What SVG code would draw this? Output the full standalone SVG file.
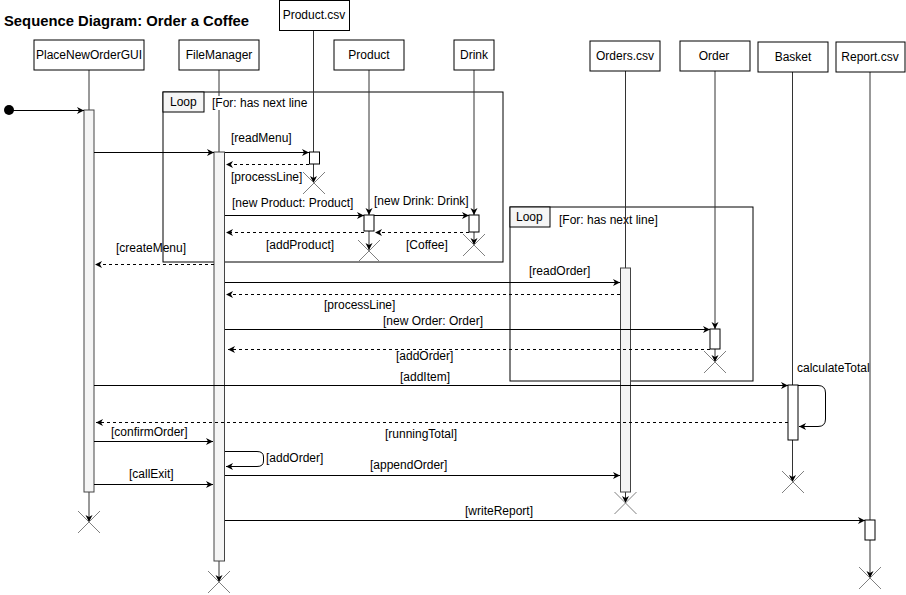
<svg xmlns="http://www.w3.org/2000/svg" width="906" height="595" viewBox="0 0 906 595">
  <style>
    text { font-family: "Liberation Sans", Arial, sans-serif; font-size: 12px; fill: #000; }
    .title { font-size: 14.8px; font-weight: bold; }
    .head { fill: #fff; stroke: #000; stroke-width: 1; }
    .life { stroke: #333; stroke-width: 1; fill: none; }
    .act { fill: #f5f5f5; stroke: #444; stroke-width: 1; }
    .acts { fill: #fff; stroke: #000; stroke-width: 1; }
    .frame { fill: none; stroke: #000; stroke-width: 1; }
    .flabel { fill: #f5f5f5; stroke: #000; stroke-width: 1; }
    .msg { stroke: #000; stroke-width: 1; fill: none; marker-end: url(#arrow); }
    .ret { stroke: #000; stroke-width: 1; fill: none; stroke-dasharray: 3 3; marker-end: url(#arrow); }
    .x { stroke: #808080; stroke-width: 1; }
  </style>
  <defs>
    <marker id="arrow" markerWidth="8" markerHeight="8" refX="7" refY="3.5" orient="auto" markerUnits="userSpaceOnUse">
      <path d="M0,0 L7,3.5 L0,7 L2,3.5 Z" fill="#000"/>
    </marker>
    <g id="destroy">
      <line class="x" x1="-11" y1="-11" x2="11" y2="11"/>
      <line class="x" x1="-11" y1="11" x2="11" y2="-11"/>
    </g>
  </defs>

  <rect width="906" height="595" fill="#fff"/>
  <text class="title" x="4" y="26">Sequence Diagram: Order a Coffee</text>

  <!-- combined fragments -->
  <g id="loop-menu">
    <rect class="frame" x="163" y="92" width="340" height="170"/>
    <rect class="flabel" x="163" y="92" width="41" height="20"/>
    <text x="170" y="106">Loop</text>
  </g>
  <g id="loop-orders">
    <rect class="frame" x="510" y="207" width="243" height="174"/>
    <rect class="flabel" x="510" y="207" width="40" height="20"/>
    <text x="516" y="221">Loop</text>
    <text x="559" y="224">[For: has next line]</text>
  </g>

  <!-- lifelines -->
  <g id="lifelines">
    <line class="life" x1="89" y1="70" x2="89" y2="110"/>
    <line class="life" x1="89" y1="492" x2="89" y2="522" marker-end="url(#arrow)"/>
    <line class="life" x1="219" y1="70" x2="219" y2="152"/>
    <line class="life" x1="219" y1="561" x2="219" y2="582" marker-end="url(#arrow)"/>
    <line class="life" x1="313.5" y1="30" x2="313.5" y2="152"/>
    <line class="life" x1="313.5" y1="164" x2="313.5" y2="183" marker-end="url(#arrow)"/>
    <line class="life" x1="369" y1="70" x2="369" y2="215" marker-end="url(#arrow)"/>
    <line class="life" x1="369" y1="231" x2="369" y2="250" marker-end="url(#arrow)"/>
    <line class="life" x1="474" y1="70" x2="474" y2="215" marker-end="url(#arrow)"/>
    <line class="life" x1="474" y1="232" x2="474" y2="245" marker-end="url(#arrow)"/>
    <line class="life" x1="625.5" y1="70" x2="625.5" y2="268"/>
    <line class="life" x1="625.5" y1="492" x2="625.5" y2="503" marker-end="url(#arrow)"/>
    <line class="life" x1="715" y1="70" x2="715" y2="329" marker-end="url(#arrow)"/>
    <line class="life" x1="715" y1="349" x2="715" y2="362" marker-end="url(#arrow)"/>
    <line class="life" x1="792.5" y1="72" x2="792.5" y2="385"/>
    <line class="life" x1="792.5" y1="440" x2="792.5" y2="482" marker-end="url(#arrow)"/>
    <line class="life" x1="870" y1="72" x2="870" y2="520"/>
    <line class="life" x1="870" y1="540" x2="870" y2="578" marker-end="url(#arrow)"/>
  </g>

  <!-- loop guard text with its own background over the lifeline -->
  <rect x="210" y="96" width="100" height="14" fill="#fff"/>
  <text x="212" y="107">[For: has next line</text>

  <!-- participants -->
  <g id="PlaceNewOrderGUI">
    <rect class="head" x="34" y="40" width="110" height="30"/>
    <text x="89" y="59" text-anchor="middle">PlaceNewOrderGUI</text>
    <rect class="act" x="84" y="110" width="10" height="382"/>
    <use href="#destroy" x="89" y="522"/>
  </g>
  <g id="FileManager">
    <rect class="head" x="179" y="40" width="80" height="30"/>
    <text x="219" y="59" text-anchor="middle">FileManager</text>
    <rect class="act" x="214" y="152" width="10.5" height="409"/>
    <use href="#destroy" x="219" y="582"/>
  </g>
  <g id="ProductCsv">
    <rect class="head" x="279.5" y="0.5" width="70" height="30"/>
    <text x="314" y="19" text-anchor="middle">Product.csv</text>
    <rect class="acts" x="309.5" y="152" width="10" height="12"/>
    <use href="#destroy" x="314" y="183"/>
  </g>
  <g id="Product">
    <rect class="head" x="334" y="40" width="70" height="30"/>
    <text x="369" y="59" text-anchor="middle">Product</text>
    <rect class="acts" x="364" y="215" width="10" height="16"/>
    <use href="#destroy" x="369" y="251"/>
  </g>
  <g id="Drink">
    <rect class="head" x="454" y="40" width="40" height="30"/>
    <text x="474" y="59" text-anchor="middle">Drink</text>
    <rect class="acts" x="469" y="215" width="10" height="17"/>
    <use href="#destroy" x="474" y="245"/>
  </g>
  <g id="OrdersCsv">
    <rect class="head" x="590" y="41" width="70" height="30"/>
    <text x="625" y="60" text-anchor="middle">Orders.csv</text>
    <rect class="act" x="620.5" y="268" width="10" height="224"/>
    <use href="#destroy" x="625.5" y="503"/>
  </g>
  <g id="Order">
    <rect class="head" x="680" y="41" width="70" height="30"/>
    <text x="714" y="60" text-anchor="middle">Order</text>
    <rect class="acts" x="710" y="329" width="10" height="20"/>
    <use href="#destroy" x="715" y="362"/>
  </g>
  <g id="Basket">
    <rect class="head" x="758" y="42" width="70" height="30"/>
    <text x="793" y="61" text-anchor="middle">Basket</text>
    <rect class="acts" x="788" y="385" width="10" height="55"/>
    <use href="#destroy" x="793" y="482"/>
  </g>
  <g id="ReportCsv">
    <rect class="head" x="836" y="42" width="69" height="30"/>
    <text x="870" y="61" text-anchor="middle">Report.csv</text>
    <rect class="acts" x="865" y="520" width="10" height="20"/>
    <use href="#destroy" x="870" y="578"/>
  </g>

  <!-- messages -->
  <g id="connectors">
    <circle cx="9" cy="110" r="5" fill="#000"/>
    <line class="msg" x1="9" y1="110.5" x2="84" y2="110.5"/>
    <line class="msg" x1="94" y1="152.5" x2="214" y2="152.5"/>

    <line class="msg" x1="225" y1="152.5" x2="309" y2="152.5"/>
    <line class="ret" x1="309" y1="164.5" x2="226" y2="164.5"/>
    <line class="msg" x1="225" y1="215.5" x2="364" y2="215.5"/>
    <line class="msg" x1="374" y1="215.5" x2="469" y2="215.5"/>
    <line class="ret" x1="469" y1="232.5" x2="375" y2="232.5"/>
    <line class="ret" x1="364" y1="232.5" x2="226" y2="232.5"/>
    <line class="ret" x1="214" y1="264.5" x2="95" y2="264.5"/>

    <line class="msg" x1="225" y1="282.5" x2="620" y2="282.5"/>
    <line class="ret" x1="620" y1="294.5" x2="226" y2="294.5"/>
    <line class="msg" x1="225" y1="329.5" x2="710" y2="329.5"/>
    <line class="ret" x1="710" y1="349.5" x2="228" y2="349.5"/>

    <line class="msg" x1="94" y1="385.5" x2="788" y2="385.5"/>
    <path class="msg" d="M798,385.5 H818 Q825.5,385.5 825.5,393 V419 Q825.5,426.5 818,426.5 H799"/>
    <line class="ret" x1="788" y1="422.5" x2="96" y2="422.5"/>
    <line class="msg" x1="94" y1="441.5" x2="213" y2="441.5"/>
    <path class="msg" d="M225,451.5 H257 Q263.5,451.5 263.5,457 V461 Q263.5,466.5 257,466.5 H226"/>
    <line class="msg" x1="225" y1="475.5" x2="620" y2="475.5"/>
    <line class="msg" x1="94" y1="484.5" x2="213" y2="484.5"/>
    <line class="msg" x1="225" y1="520.5" x2="865" y2="520.5"/>
  </g>

  <!-- message labels -->
  <g id="labels">
    <text x="231" y="142">[readMenu]</text>
    <text x="231" y="181">[processLine]</text>
    <text x="232" y="207">[new Product: Product]</text>
    <text x="374" y="205">[new Drink: Drink]</text>
    <text x="266" y="249">[addProduct]</text>
    <text x="406" y="249">[Coffee]</text>
    <text x="116" y="252">[createMenu]</text>
    <text x="529" y="275">[readOrder]</text>
    <text x="324" y="309">[processLine]</text>
    <text x="383" y="325">[new Order: Order]</text>
    <text x="396" y="360">[addOrder]</text>
    <text x="400" y="381">[addItem]</text>
    <text x="797" y="372">calculateTotal</text>
    <text x="385" y="438">[runningTotal]</text>
    <text x="111" y="436">[confirmOrder]</text>
    <text x="266" y="462">[addOrder]</text>
    <text x="370" y="469">[appendOrder]</text>
    <text x="129" y="478">[callExit]</text>
    <text x="465" y="515">[writeReport]</text>
  </g>
</svg>
